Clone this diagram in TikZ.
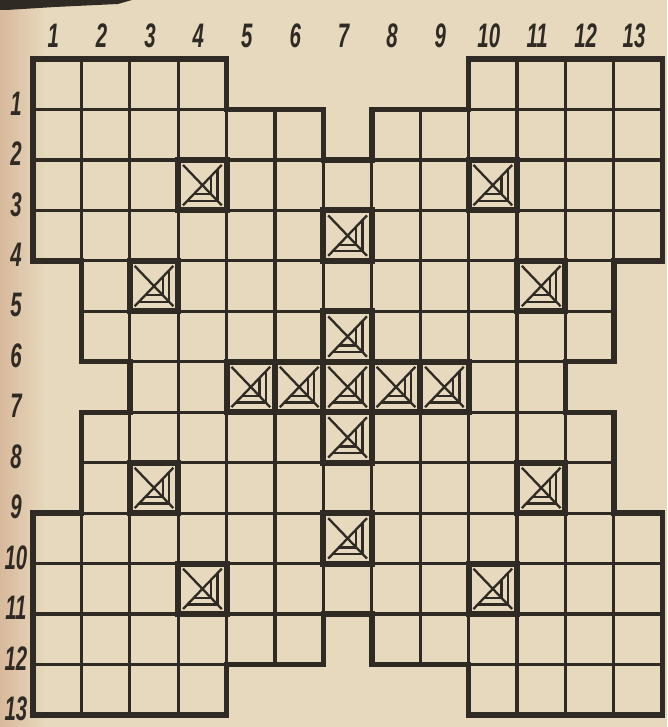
\documentclass[tikz,border=0pt]{standalone}
\usepackage{fontspec}
\setsansfont{Liberation Sans}
\usetikzlibrary{calc}
\definecolor{paper}{HTML}{E6D9BD}
\definecolor{paperedge}{HTML}{D8B99C}
\definecolor{ink}{HTML}{2F2A24}

\tikzset{
  gridline/.style={draw=ink, line width=3.2pt},
  outline/.style={draw=ink, line width=5.4pt, line join=miter},
  markframe/.style={draw=ink, line width=6pt},
  markline/.style={draw=ink, line width=2.3pt},
  numlabel/.style={text=ink, inner sep=0pt, font=\sffamily\bfseries\itshape\fontsize{34}{34}\selectfont},
}
\newcommand{\narrow}[1]{\scalebox{0.6}[1]{#1}}

\begin{document}
\begin{tikzpicture}[x=1pt, y=-1pt]
  \useasboundingbox (0,0) rectangle (667,727);
  % paper
  \fill[paper] (0,0) rectangle (667,727);
  \shade[left color=paperedge, right color=paper] (0,0) rectangle (45,727);
  \fill[ink] (0,0) -- (132,0) -- (118,4) -- (55,7) -- (6,10) -- (0,10) -- cycle;

  % column and row numbers
  \foreach \c in {1,...,13}
    \node[numlabel] (col\c) at ({33+48.4*(\c-0.5)-4}, 36) {\narrow{\c}};
  \foreach \r in {1,...,13}
    \node[numlabel] (row\r) at (16, {59+50.46*\r-6}) {\narrow{\r}};

  \begin{scope}[shift={(33,59)}, x=48.4pt, y=-50.46pt]
    % cells, row by row
    \foreach \r/\a/\b in {1/1/4, 1/10/13, 2/1/6, 2/8/13, 3/1/13, 4/1/13, 5/2/12, 6/2/12,
                          7/3/11, 8/2/12, 9/2/12, 10/1/13, 11/1/13, 12/1/6, 12/8/13, 13/1/4, 13/10/13}
      \foreach \c in {\a,...,\b}
        \draw[gridline] (\c-1,\r-1) rectangle (\c,\r);
    % outer edge
    \draw[outline] (0,0) -- (4,0) -- (4,1) -- (6,1) -- (6,2) -- (7,2) -- (7,1) -- (9,1) -- (9,0)
      -- (13,0) -- (13,4) -- (12,4) -- (12,6) -- (11,6) -- (11,7) -- (12,7) -- (12,9) -- (13,9)
      -- (13,13) -- (9,13) -- (9,12) -- (7,12) -- (7,11) -- (6,11) -- (6,12) -- (4,12) -- (4,13)
      -- (0,13) -- (0,9) -- (1,9) -- (1,7) -- (2,7) -- (2,6) -- (1,6) -- (1,4) -- (0,4) -- cycle;
    % pyramids
    \foreach \c/\r in {4/3, 10/3, 7/4, 3/5, 11/5, 7/6, 5/7, 6/7, 7/7, 8/7, 9/7, 7/8, 3/9, 11/9, 7/10, 4/11, 10/11} {
      \draw[markframe] (\c-1,\r-1) rectangle (\c,\r);
      \draw[markline] (\c-0.9,\r-0.9) -- (\c-0.1,\r-0.1)
                      (\c-0.1,\r-0.9) -- (\c-0.9,\r-0.1);
      \foreach \d in {0.18,0.31}
        \draw[markline] (\c-0.5-\d,\r-0.5+\d) -- (\c-0.5+\d,\r-0.5+\d) -- (\c-0.5+\d,\r-0.5-\d);
    }
  \end{scope}
\end{tikzpicture}
\end{document}
